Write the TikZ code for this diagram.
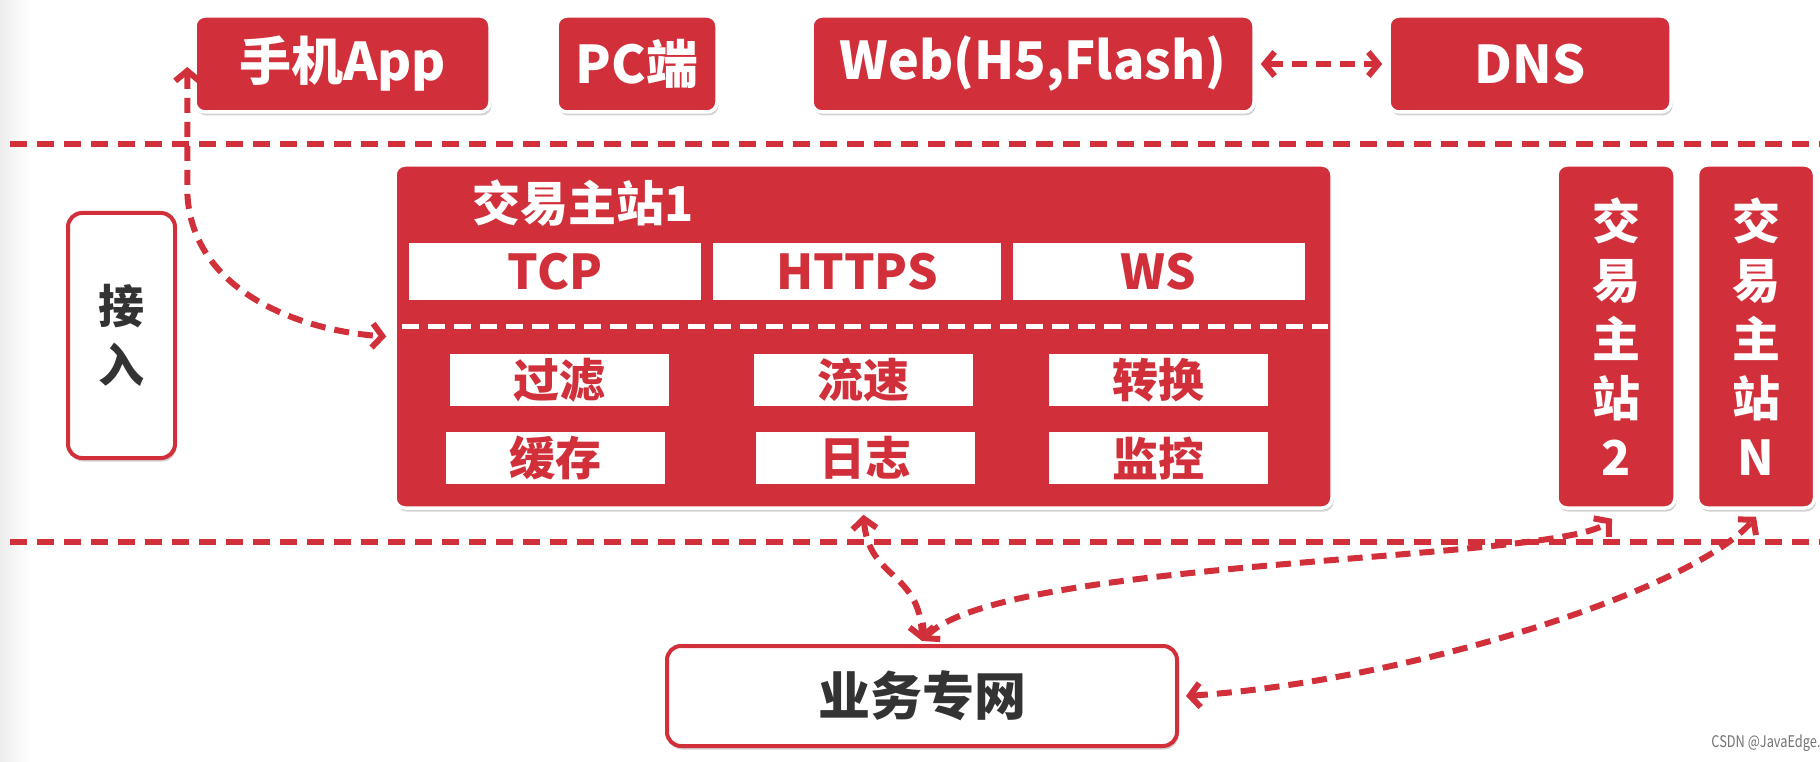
\documentclass[tikz,border=0pt]{standalone}
\usepackage{fontspec}
\setmainfont{Noto Sans CJK SC}
\usetikzlibrary{arrows.meta,shadows}
\definecolor{myred}{HTML}{D1303B}
\definecolor{txtgray}{HTML}{333333}
\newcommand\myfs[2]{\fontsize{#1}{#2}\selectfont\bfseries}
\begin{document}
\begin{tikzpicture}[x=1pt,y=-1pt,
  redbox/.style={rounded corners=10pt, fill=myred, draw=white, line width=3.5pt, text=white, inner sep=0pt,
    drop shadow={shadow xshift=1.5pt, shadow yshift=-3.5pt, opacity=0.35}},
  whitebox/.style={rounded corners=14pt, fill=white, draw=myred, line width=4pt, text=txtgray, inner sep=0pt,
    drop shadow={shadow xshift=1.5pt, shadow yshift=-3.5pt, opacity=0.35}},
  cell/.style={fill=white, text=myred, inner sep=0pt},
  sepline/.style={myred, line width=5.5pt, dash pattern=on 17pt off 10pt},
  conn/.style={myred, line width=6pt, dash pattern=on 15pt off 9pt,
    {Straight Barb[length=10pt,width=24pt]}-{Straight Barb[length=10pt,width=24pt]}},
  topfont/.style={font=\myfs{52}{62}},
  cellfont/.style={font=\myfs{46}{56}}
]
\useasboundingbox (0,0) rectangle (1820,762);
\fill[white] (0,0) rectangle (1820,762);
\shade[left color=black!7, right color=white] (0,0) rectangle (30,762);

% separators
\draw[sepline] (10,144) -- (1820,144);
\draw[sepline] (10,542) -- (1820,542);

% top row
\node[redbox, topfont, minimum width=295pt, minimum height=96pt] (phone) at (342.5,64) {手机App};
\node[redbox, topfont, minimum width=160pt, minimum height=96pt] (pc) at (637,64) {PC端};
\node[redbox, topfont, minimum width=442pt, minimum height=96pt] (web) at (1033,64) {Web(H5,Flash)};
\node[redbox, topfont, minimum width=282pt, minimum height=96pt] (dns) at (1530,64) {DNS};

% access
\node[whitebox, align=center, font=\myfs{46}{59}, minimum width=107pt, minimum height=245pt] (access) at (121.5,335.5) {接\\入};

% main station
\node[redbox, minimum width=937pt, minimum height=343pt] (main) at (863.5,336.5) {};
\node[text=white, font=\myfs{48}{58}, inner sep=0pt] (title) at (583,203) {交易主站1};
\node[cell, font=\myfs{48}{58}, minimum width=292pt, minimum height=57pt] (tcp) at (555,271.5) {TCP};
\node[cell, font=\myfs{48}{58}, minimum width=288pt, minimum height=57pt] (https) at (857,271.5) {HTTPS};
\node[cell, font=\myfs{48}{58}, minimum width=292pt, minimum height=57pt] (ws) at (1158.5,271.5) {WS};
\coordinate (dl) at (402,326);
\coordinate (dr) at (1328,326);
\draw[white, line width=5pt, dash pattern=on 17pt off 9pt] (dl) -- (dr);
\node[cell, cellfont, minimum width=219pt, minimum height=52pt] (filter) at (559.5,380) {过滤};
\node[cell, cellfont, minimum width=219pt, minimum height=52pt] (flow) at (863.5,380) {流速};
\node[cell, cellfont, minimum width=219pt, minimum height=52pt] (conv) at (1158.5,380) {转换};
\node[cell, cellfont, minimum width=219pt, minimum height=52pt] (cache) at (555,458) {缓存};
\node[cell, cellfont, minimum width=219pt, minimum height=52pt] (log) at (865,458) {日志};
\node[cell, cellfont, minimum width=219pt, minimum height=52pt] (mon) at (1158.5,458) {监控};

% other stations
\node[redbox, align=center, font=\myfs{48}{59}, minimum width=118pt, minimum height=343pt] (st2) at (1616,336.5) {交\\易\\主\\站\\2};
\node[redbox, align=center, font=\myfs{48}{59}, minimum width=117pt, minimum height=343pt] (stN) at (1756,336.5) {交\\易\\主\\站\\N};

% network
\node[whitebox, font=\myfs{52}{62}, minimum width=510pt, minimum height=100pt] (net) at (922,696) {业务专网};

% watermark
\node[text=black!55, font=\fontsize{16}{18}\selectfont, inner sep=0pt] (wm) at (1766,743) {\scalebox{0.8}[1]{CSDN @JavaEdge.}};

% connectors
\coordinate (phonetip) at ([xshift=-6pt,yshift=-3pt]phone.west);
\coordinate (mainW) at ([xshift=-7pt]main.west);
\draw[conn] (phonetip) -- ++(0,123) .. controls +(2,100) and +(-88,-6) .. (mainW);
\draw[conn] ([xshift=5pt]web.east) -- ([xshift=-5pt]dns.west);
\coordinate (mainS) at ([yshift=-5pt]main.south);
\coordinate (netN) at ([yshift=3pt]net.north);
\coordinate (netE) at ([xshift=7pt]net.east);
\coordinate (st2tip) at ([xshift=-4pt,yshift=-9pt]st2.south);
\coordinate (stNtip) at ([yshift=-7pt]stN.south);
\draw[conn] (mainS) .. controls +(5,65) and +(-2,-70) .. (netN);
\draw[conn] (netN) .. controls +(78,-83) and +(-52,43) .. (st2tip);
\draw[conn] (netE) .. controls +(216,-14) and +(-65,75) .. (stNtip);
\end{tikzpicture}
\end{document}
